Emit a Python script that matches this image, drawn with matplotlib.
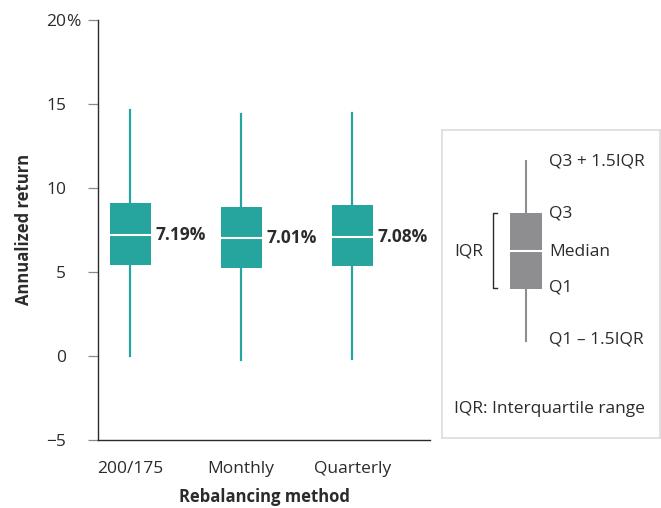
import matplotlib
matplotlib.use('Agg')
import matplotlib.pyplot as plt
from matplotlib.patches import Rectangle

plt.rcParams['font.family'] = ['Open Sans', 'DejaVu Sans']

# data
methods = ['200/175', 'Monthly', 'Quarterly']
medians = [7.19, 7.01, 7.08]
q1 = [5.43, 5.20, 5.32]
q3 = [9.09, 8.85, 8.99]
whisk_lo = [0.0, -0.22, -0.17]
whisk_hi = [14.6, 14.4, 14.45]
yticks = [-5, 0, 5, 10, 15, 20]

teal = '#26A59E'
dark = '#2B2B2B'
grey_tick = '#8A8A8A'
PX = 0.72  # points per pixel at 100 dpi

fig = plt.figure(figsize=(6.61, 5.08), dpi=100)
W, H = 661, 508
ax = fig.add_axes([98 / W, 1 - 440 / H, 332 / W, 420.5 / H])

stats = []
for i, m in enumerate(methods):
    stats.append(dict(label=m, med=medians[i], q1=q1[i], q3=q3[i],
                      whislo=whisk_lo[i], whishi=whisk_hi[i], fliers=[]))

pos = list(range(len(methods)))
ax.bxp(stats, positions=pos, widths=0.37, patch_artist=True, showcaps=False,
       boxprops=dict(facecolor=teal, edgecolor=teal, linewidth=0),
       whiskerprops=dict(color=teal, linewidth=1.6),
       medianprops=dict(color='white', linewidth=1.5))

for i, m in enumerate(medians):
    ax.text(pos[i] + 0.23, m, f'{m:.2f}%', ha='left', va='center',
            fontsize=12.5, fontweight='bold', color=dark)

ax.set_xlim(-0.29, 2.70)
ax.set_ylim(-5, 20)
ax.set_yticks(yticks)
ax.set_yticklabels([str(t).replace('-', '\u2212') for t in yticks])
ax.set_xticks(pos)
ax.set_xticklabels(methods)
ax.tick_params(axis='y', length=10 * PX, width=0.9, color=grey_tick, pad=22 * PX,
               labelsize=12.5, labelcolor=dark)
ax.tick_params(axis='x', length=0, pad=21 * PX, labelsize=12.5, labelcolor=dark)
for lab in ax.get_yticklabels():
    lab.set_horizontalalignment('right')
ax.spines['top'].set_visible(False)
ax.spines['right'].set_visible(False)
ax.spines['left'].set_color(dark)
ax.spines['bottom'].set_color(dark)
ax.spines['left'].set_linewidth(1)
ax.spines['bottom'].set_linewidth(1)
ax.set_ylabel('Annualized return', fontsize=12, fontweight='bold', color=dark, labelpad=9.5)
ax.set_xlabel('Rebalancing method', fontsize=12, fontweight='bold', color=dark, labelpad=8)

# percent sign hangs after the top tick label
fig.text(66 / W, 1 - 19.5 / H, '%', fontsize=12.5, color=dark,
         ha='left', va='center_baseline')

# legend panel explaining the box
lg = fig.add_axes([442 / W, 1 - 438 / H, 218 / W, 308 / H])
lg.set_xlim(442, 660)
lg.set_ylim(438, 130)
lg.set_xticks([])
lg.set_yticks([])
for s in lg.spines.values():
    s.set_color('#DCDCDC')
    s.set_linewidth(1.2)
gbox = '#8E8E90'
lg.plot([526, 526], [161, 341], color=gbox, lw=1.5)
lg.add_patch(Rectangle((510, 213), 32, 76, facecolor=gbox, edgecolor='none'))
lg.plot([510, 542], [251.5, 251.5], color='white', lw=1.5)
lg.plot([497, 493, 493, 497], [213.5, 213.5, 288.5, 288.5], color=dark, lw=1)
txt = dict(fontsize=12.5, color=dark, va='center')
lg.text(549, 162, 'Q3 + 1.5IQR', **txt)
lg.text(549, 214, 'Q3', **txt)
lg.text(549, 252, 'Median', **txt)
lg.text(549, 288, 'Q1', **txt)
lg.text(549, 340, 'Q1 \u2013 1.5IQR', **txt)
lg.text(454, 252, 'IQR', **txt)
lg.text(454, 409, 'IQR: Interquartile range', **txt)

fig.savefig('out.png', dpi=100)
